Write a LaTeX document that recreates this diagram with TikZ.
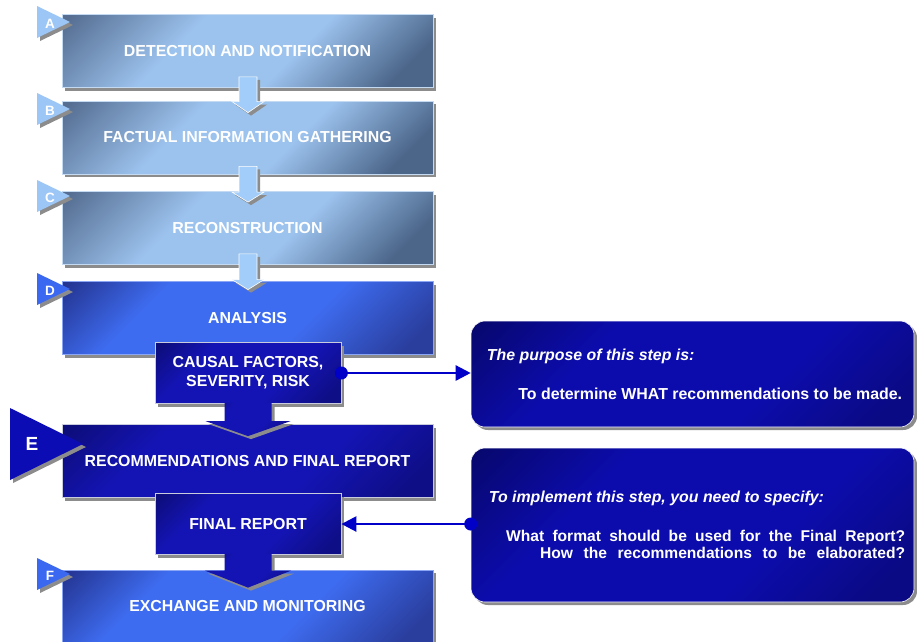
\documentclass[tikz,border=0pt]{standalone}
\usepackage{fontspec}
\setmainfont{Liberation Sans}
\usetikzlibrary{shadows,arrows.meta,calc}

% palette
\definecolor{steelDark}{HTML}{566E92}
\definecolor{steelLight}{HTML}{9CC3EE}
\definecolor{steelEnd}{HTML}{4C668A}
\definecolor{steelEdge}{HTML}{C4DAF2}
\definecolor{royalDark}{HTML}{22308A}
\definecolor{royalLight}{HTML}{3E6CF0}
\definecolor{royalEnd}{HTML}{2A3E9E}
\definecolor{royalEdge}{HTML}{8AA6F4}
\definecolor{navyDark}{HTML}{0C0C74}
\definecolor{navyLight}{HTML}{1414B4}
\definecolor{navyEnd}{HTML}{0E0E86}
\definecolor{navyEdge}{HTML}{C8CCDC}
\definecolor{noteDark}{HTML}{07076A}
\definecolor{noteLight}{HTML}{0C0CAC}
\definecolor{noteEnd}{HTML}{0A0A84}
\definecolor{paleTri}{HTML}{9CC6F6}
\definecolor{royalTri}{HTML}{3A68F0}
\definecolor{navyTri}{HTML}{0C0CB4}
\definecolor{paleArrow}{HTML}{A2CCFA}
\definecolor{shadowGray}{HTML}{8C8C8C}
\definecolor{linkBlue}{HTML}{0000C8}

% diagonal fills: dark corner, broad light band, dark corner
\pgfdeclareverticalshading{paleshade}{100bp}{color(0bp)=(steelEnd); color(22bp)=(steelEnd);
  color(42bp)=(steelLight); color(62bp)=(steelLight); color(84bp)=(steelDark); color(100bp)=(steelDark)}
\pgfdeclareverticalshading{royalshade}{100bp}{color(0bp)=(royalEnd); color(20bp)=(royalEnd);
  color(40bp)=(royalLight); color(68bp)=(royalLight); color(86bp)=(royalDark); color(100bp)=(royalDark)}
\pgfdeclareverticalshading{navyshade}{100bp}{color(0bp)=(navyEnd); color(20bp)=(navyEnd);
  color(38bp)=(navyLight); color(68bp)=(navyLight); color(86bp)=(navyDark); color(100bp)=(navyDark)}
\pgfdeclareverticalshading{noteshade}{100bp}{color(0bp)=(noteEnd); color(20bp)=(noteEnd);
  color(38bp)=(noteLight); color(66bp)=(noteLight); color(86bp)=(noteDark); color(100bp)=(noteDark)}

% block arrow: style, shaft top, tip, shaft half width, head half width, head length
\newcommand\blockarrow[6]{%
  \path[#1] let \p1=#2, \p2=#3 in
    (\x1-#4pt,\y1) -- (\x1+#4pt,\y1) -- (\x1+#4pt,\y2+#6pt) -- (\x1+#5pt,\y2+#6pt)
    -- (\x1,\y2) -- (\x1-#5pt,\y2+#6pt) -- (\x1-#4pt,\y2+#6pt) -- cycle;}

\begin{document}
\begin{tikzpicture}[x=1pt,y=-1pt,
  boxshadow/.style={drop shadow={shadow xshift=3pt,shadow yshift=-3pt,fill=shadowGray,opacity=1}},
  label/.style={text=white,font=\fontsize{15.9}{19.3}\selectfont\bfseries,inner sep=0pt},
  stepbox/.style={rectangle,minimum width=371pt,minimum height=73pt,inner sep=0pt,
    line width=0.8pt,boxshadow,label},
  palestep/.style={stepbox,draw=steelEdge,shade,shading=paleshade,shading angle=45},
  royalstep/.style={stepbox,draw=royalEdge,shade,shading=royalshade,shading angle=45},
  navystep/.style={stepbox,draw=navyEdge,shade,shading=navyshade,shading angle=45},
  outputbox/.style={rectangle,minimum width=186pt,minimum height=61pt,inner sep=0pt,
    line width=0.8pt,boxshadow,label,align=center,draw=navyEdge,
    shade,shading=navyshade,shading angle=45},
  palearrow/.style={fill=paleArrow,draw=white,line width=0.6pt,boxshadow},
  navyarrow/.style={shade,shading=navyshade,shading angle=45,boxshadow},
  tri/.style={boxshadow},
  letter/.style={text=white,font=\fontsize{13.5}{15}\selectfont\bfseries,inner sep=0pt},
  notebox/.style={rectangle,rounded corners=14pt,minimum width=443pt,inner sep=0pt,
    draw=white,line width=0.6pt,boxshadow,shade,shading=noteshade,shading angle=45},
  notetext/.style={label},
  link/.style={draw=linkBlue,line width=2.5pt,-{Triangle[length=15pt,width=15pt]}},
]
\useasboundingbox (0,0) rectangle (917,641);
\fill[white] (0,0) rectangle (917,641);

% main phases
\node[palestep]  (A) at (247.5,51)    {DETECTION AND NOTIFICATION};
\node[palestep]  (B) at (247.5,137.5) {FACTUAL INFORMATION GATHERING};
\node[palestep]  (C) at (247.5,228)   {RECONSTRUCTION};
\node[royalstep] (D) at (247.5,318)   {ANALYSIS};
\node[navystep]  (E) at (247.5,461)   {RECOMMENDATIONS AND FINAL REPORT};
\node[royalstep] (F) at (247.5,606.5) {EXCHANGE AND MONITORING};

% flow between the first phases
\blockarrow{palearrow}{($(A.south)+(0.5,-11)$)}{($(B.north)+(0.5,12)$)}{9}{16}{11}
\blockarrow{palearrow}{($(B.south)+(0.5,-8)$)}{($(C.north)+(0.5,11)$)}{9}{16}{10}
\blockarrow{palearrow}{($(C.south)+(0.5,-11)$)}{($(D.north)+(0.5,8.5)$)}{9}{16}{10}

% outputs of the analysis and recommendation phases
\node[outputbox] (cf) at (248,373) {CAUSAL FACTORS,\\SEVERITY, RISK};
\node[outputbox] (fr) at (248,524) {FINAL REPORT};
\blockarrow{navyarrow}{($(cf.south)+(0,-1)$)}{($(E.north)+(0,12)$)}{23.5}{42.5}{15}
\blockarrow{navyarrow}{($(fr.south)+(0,-1)$)}{($(F.north)+(0,18)$)}{23.5}{43}{17}

% phase markers
\path[tri,fill=paleTri]  (37,6)   -- (70,22)  -- (37,38)  -- cycle;
\path[tri,fill=paleTri]  (37,93)  -- (70,109) -- (37,125) -- cycle;
\path[tri,fill=paleTri]  (37,180) -- (70,196) -- (37,212) -- cycle;
\path[tri,fill=royalTri] (37,273) -- (70,289) -- (37,305) -- cycle;
\path[tri,fill=navyTri]  (10,408) -- (83,444) -- (10,480) -- cycle;
\path[tri,fill=royalTri] (37,558) -- (70,574) -- (37,590) -- cycle;
\node[letter] (la) at (50,24)  {A};
\node[letter] (lb) at (50,111) {B};
\node[letter] (lc) at (50,198) {C};
\node[letter] (ld) at (50,291) {D};
\node[letter,font=\fontsize{19}{21}\selectfont\bfseries] (le) at (32,444) {E};
\node[letter] (lf) at (50,576) {F};

% explanatory notes
\node[notebox,minimum height=106pt] (n1) at (692.5,374) {};
\node[notetext,anchor=west,font=\fontsize{15.9}{19}\selectfont\bfseries\itshape]
  (n1h) at ($(n1.west)+(16,-18)$) {The purpose of this step is:};
\node[notetext,anchor=east] (n1b) at ($(n1.east)+(-12,20)$)
  {To determine WHAT recommendations to be made.};

\node[notebox,minimum height=154pt] (n2) at (692.5,525) {};
\node[notetext,anchor=west,font=\fontsize{15.9}{19}\selectfont\bfseries\itshape]
  (n2h) at ($(n2.west)+(18,-27)$) {To implement this step, you need to specify:};
\node[notetext,anchor=east,align=right,font=\fontsize{15.6}{17}\selectfont\bfseries]
  (n2b) at ($(n2.east)+(-9,19.5)$)
  {\makebox[399pt][s]{What format should be used for the Final Report?}\\
   \makebox[365pt][s]{How the recommendations to be elaborated?}};

% links between outputs and notes
\fill[linkBlue] (cf.east) circle[radius=6.5pt];
\draw[link] (cf.east) -- (cf.east -| n1.west);
\fill[linkBlue] (fr.east -| n2.west) circle[radius=6.5pt];
\draw[link] (fr.east -| n2.west) -- (fr.east);
\end{tikzpicture}
\end{document}
